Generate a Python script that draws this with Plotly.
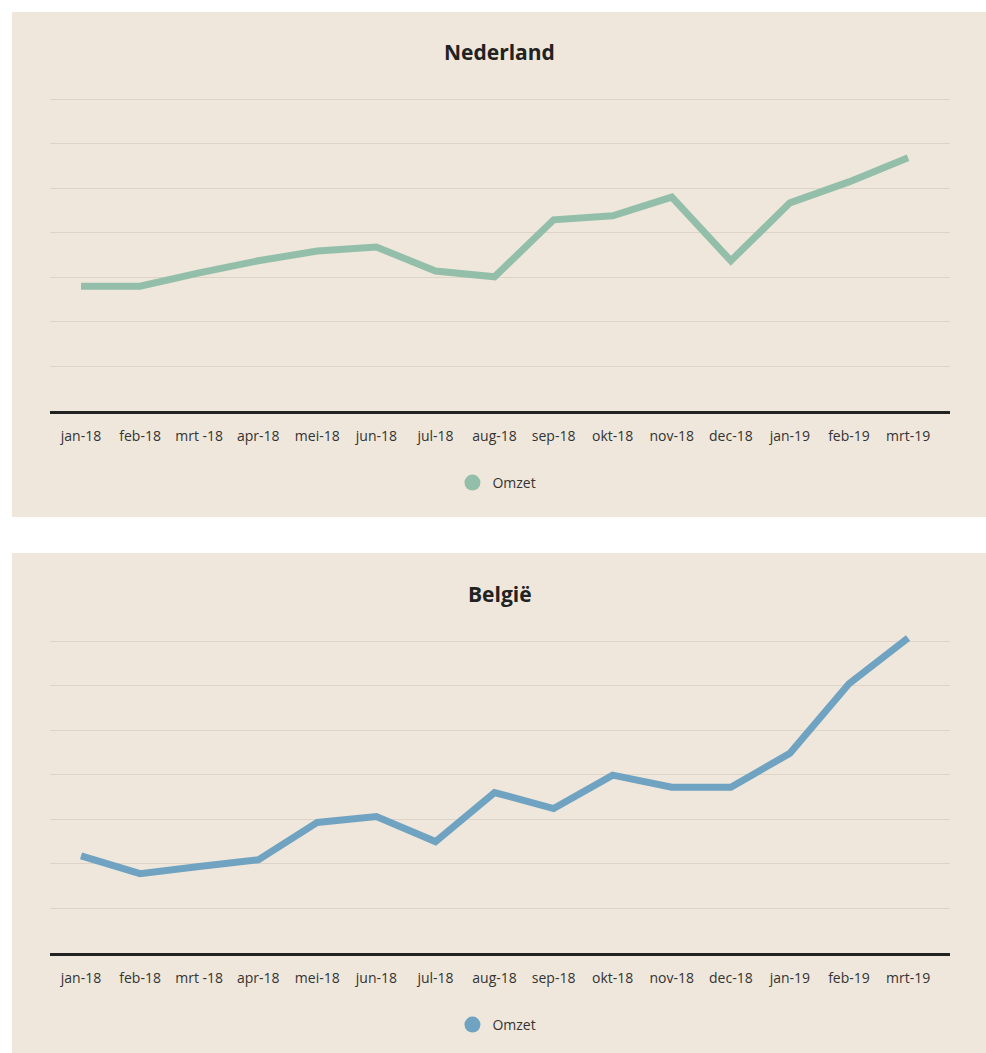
import plotly.graph_objects as go

W, H = 986, 1053

months = ["jan-18", "feb-18", "mrt -18", "apr-18", "mei-18", "jun-18", "jul-18", "aug-18",
          "sep-18", "okt-18", "nov-18", "dec-18", "jan-19", "feb-19", "mrt-19"]
omzet_nl = [28000, 28000, 31000, 33700, 35900, 36800, 31400, 30100,
            42900, 43800, 48000, 33700, 46700, 51400, 56800]
omzet_be = [21800, 17800, 19400, 20900, 29300, 30600, 25000, 36000,
            32400, 39900, 37200, 37200, 44800, 60400, 70700]

BG = "#EFE7DB"
GRID = "#DDD4C7"
GREEN = "#93BFAA"
BLUE = "#6FA3C1"
FONT = "Open Sans"

def px_x(p):
    return p / W

def px_y(p):
    return 1 - p / H

fig = go.Figure()

# panel backgrounds
for top, bot in [(12, 517), (553, 1053)]:
    fig.add_shape(type="rect", xref="paper", yref="paper", layer="below",
                  x0=px_x(12), x1=1.0, y0=px_y(bot), y1=px_y(top),
                  fillcolor=BG, line=dict(width=0))

fig.add_trace(go.Scatter(x=months, y=omzet_nl, mode="lines", xaxis="x", yaxis="y",
                         line=dict(color=GREEN, width=7), showlegend=False, hoverinfo="x+y"))
fig.add_trace(go.Scatter(x=[None], y=[None], mode="markers", xaxis="x", yaxis="y", name="Omzet",
                         marker=dict(color=GREEN, size=16), legend="legend"))
fig.add_trace(go.Scatter(x=months, y=omzet_be, mode="lines", xaxis="x2", yaxis="y2",
                         line=dict(color=BLUE, width=7), showlegend=False, hoverinfo="x+y"))
fig.add_trace(go.Scatter(x=[None], y=[None], mode="markers", xaxis="x2", yaxis="y2", name="Omzet",
                         marker=dict(color=BLUE, size=16), legend="legend2"))

unit = 44.57
ymax = 75000
xr = [-0.525, 14.71]

def xaxis_cfg(anchor):
    return dict(domain=[px_x(50), px_x(950)], anchor=anchor, type="category",
                categoryorder="array", categoryarray=months, range=xr,
                showgrid=False, showline=True, linecolor="#222222", linewidth=3,
                ticks="outside", ticklen=10, tickcolor="rgba(0,0,0,0)",
                tickfont=dict(family=FONT, size=14, color="#333333"), zeroline=False)

def yaxis_cfg(anchor, bottom_px):
    top_px = bottom_px - ymax / 10000 * unit
    return dict(domain=[px_y(bottom_px), px_y(top_px)], anchor=anchor,
                range=[0, ymax], dtick=10000, showgrid=True, gridcolor=GRID, gridwidth=1,
                showticklabels=False, zeroline=False, showline=False)

fig.update_layout(
    width=W, height=H,
    margin=dict(l=0, r=0, t=0, b=0),
    paper_bgcolor="white", plot_bgcolor="rgba(0,0,0,0)",
    font=dict(family=FONT, color="#333333"),
    xaxis=xaxis_cfg("y"), yaxis=yaxis_cfg("x", 411),
    xaxis2=xaxis_cfg("y2"), yaxis2=yaxis_cfg("x2", 953),
    legend=dict(x=0.504, y=px_y(483), xanchor="center", yanchor="middle",
                bgcolor="rgba(0,0,0,0)", font=dict(family=FONT, size=14, color="#333333"),
                orientation="h"),
    legend2=dict(x=0.504, y=px_y(1025), xanchor="center", yanchor="middle",
                 bgcolor="rgba(0,0,0,0)", font=dict(family=FONT, size=14, color="#333333"),
                 orientation="h"),
    annotations=[
        dict(text="<b>Nederland</b>", x=0.507, y=px_y(52), xref="paper", yref="paper",
             showarrow=False, font=dict(family=FONT, size=21, color="#222222"),
             xanchor="center", yanchor="middle"),
        dict(text="<b>België</b>", x=0.507, y=px_y(594), xref="paper", yref="paper",
             showarrow=False, font=dict(family=FONT, size=21, color="#222222"),
             xanchor="center", yanchor="middle"),
    ],
)

fig.write_html("out.html", config={"displayModeBar": False},
               post_script="document.body.style.margin='0';document.body.style.overflow='hidden';")
